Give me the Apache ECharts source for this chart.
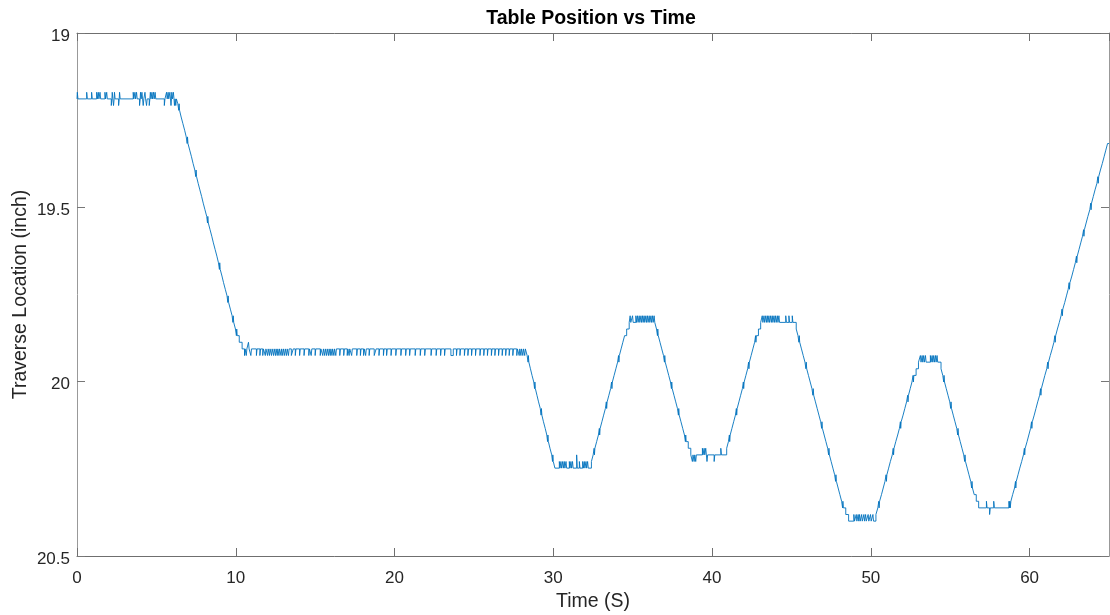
<!DOCTYPE html>
<html>
<head>
<meta charset="utf-8">
<script src="https://cdn.jsdelivr.net/npm/echarts@6/dist/echarts.min.js"></script>
<style>
  html, body { margin: 0; padding: 0; background: #fff; }
  #chart { width: 1110px; height: 615px; }
</style>
</head>
<body>
<div id="chart"></div>
<script>
// time (s), traverse location (inch) — sampled position, drawn as a held step line
const hold1 = [
  [0, 19.189],
  [0.02, 19.170], [0.06, 19.189], [0.61, 19.170], [0.65, 19.189], [0.92, 19.170], [0.96, 19.189],
  [1.24, 19.170], [1.28, 19.189], [1.34, 19.170], [1.38, 19.189], [1.45, 19.170], [1.49, 19.189],
  [1.76, 19.170], [1.80, 19.189], [1.87, 19.170], [1.91, 19.189], [2.16, 19.208], [2.20, 19.189],
  [2.22, 19.170], [2.26, 19.189], [2.30, 19.208], [2.34, 19.189], [2.36, 19.170], [2.40, 19.189],
  [2.62, 19.208], [2.66, 19.189], [2.68, 19.170], [2.72, 19.189], [3.54, 19.170], [3.58, 19.189],
  [3.65, 19.170], [3.69, 19.189], [3.75, 19.170], [3.79, 19.189], [3.94, 19.208], [3.98, 19.189],
  [4.00, 19.170], [4.04, 19.189], [4.09, 19.170], [4.13, 19.189], [4.17, 19.208], [4.21, 19.189],
  [4.28, 19.170], [4.32, 19.189], [4.38, 19.208], [4.42, 19.189], [4.55, 19.208], [4.59, 19.189],
  [4.62, 19.170], [4.66, 19.189], [4.72, 19.170], [4.76, 19.189], [4.82, 19.170], [4.86, 19.189],
  [4.92, 19.170], [4.96, 19.189], [5.50, 19.208], [5.54, 19.189], [5.64, 19.170], [5.68, 19.189],
  [5.74, 19.170], [5.78, 19.189], [5.85, 19.170], [5.89, 19.189], [5.92, 19.208], [5.95, 19.189],
  [5.97, 19.170], [6.01, 19.189], [6.07, 19.170], [6.11, 19.189], [6.14, 19.208], [6.18, 19.189],
  [6.22, 19.208], [6.26, 19.189]
];
const fall1 = [
  [6.35, 19.203], [6.41, 19.222], [6.43, 19.203], [6.46, 19.222],
  [6.56, 19.241], [6.67, 19.260], [6.78, 19.279], [6.88, 19.298],
  [6.94, 19.317], [6.96, 19.298], [6.99, 19.317],
  [7.10, 19.336], [7.21, 19.355], [7.31, 19.374], [7.42, 19.393],
  [7.48, 19.412], [7.50, 19.393], [7.53, 19.412],
  [7.63, 19.431], [7.74, 19.450], [7.85, 19.469], [7.95, 19.488], [8.06, 19.507], [8.17, 19.526],
  [8.22, 19.545], [8.24, 19.526], [8.27, 19.545],
  [8.38, 19.564], [8.49, 19.583], [8.59, 19.602], [8.70, 19.621], [8.81, 19.640], [8.91, 19.659],
  [8.97, 19.678], [8.99, 19.659], [9.02, 19.678],
  [9.13, 19.697], [9.23, 19.716], [9.34, 19.735], [9.45, 19.754],
  [9.50, 19.773], [9.52, 19.754], [9.55, 19.773],
  [9.66, 19.792], [9.77, 19.811],
  [9.82, 19.830], [9.84, 19.811], [9.87, 19.830],
  [9.98, 19.849],
  [10.04, 19.868], [10.06, 19.849], [10.09, 19.868],
  [10.22, 19.887], [10.40, 19.906]
];
const hold2 = [
  [10.55, 19.925], [10.59, 19.906], [10.66, 19.925], [10.70, 19.906], [10.80, 19.887], [10.84, 19.906],
  [10.95, 19.925], [10.99, 19.906], [11.30, 19.925], [11.34, 19.906], [11.52, 19.925], [11.56, 19.906],
  [11.70, 19.925], [11.74, 19.906], [11.86, 19.925], [11.90, 19.906], [12.00, 19.925], [12.04, 19.906],
  [12.12, 19.925], [12.16, 19.906], [12.25, 19.925], [12.29, 19.906], [12.38, 19.925], [12.42, 19.906],
  [12.50, 19.925], [12.54, 19.906], [12.61, 19.925], [12.65, 19.906], [12.72, 19.925], [12.76, 19.906],
  [12.85, 19.925], [12.89, 19.906], [12.96, 19.925], [13.00, 19.906], [13.08, 19.925], [13.12, 19.906],
  [13.20, 19.925], [13.24, 19.906], [13.32, 19.925], [13.36, 19.906], [13.50, 19.925], [13.62, 19.906],
  [13.75, 19.925], [13.79, 19.906], [14.02, 19.925], [14.06, 19.906], [14.30, 19.925], [14.34, 19.906],
  [14.60, 19.925], [14.64, 19.906], [14.75, 19.925], [14.79, 19.906], [15.00, 19.925], [15.04, 19.906],
  [15.32, 19.925], [15.36, 19.906], [15.48, 19.925], [15.52, 19.906], [15.60, 19.925], [15.64, 19.906],
  [15.72, 19.925], [15.76, 19.906], [15.84, 19.925], [15.88, 19.906], [15.95, 19.925], [15.99, 19.906],
  [16.06, 19.925], [16.10, 19.906], [16.18, 19.925], [16.22, 19.906], [16.30, 19.925], [16.34, 19.906],
  [16.55, 19.925], [16.59, 19.906], [16.80, 19.925], [16.84, 19.906], [17.02, 19.925], [17.06, 19.906],
  [17.14, 19.925], [17.18, 19.906], [17.30, 19.925], [17.34, 19.906], [17.62, 19.925], [17.66, 19.906],
  [17.85, 19.925], [17.89, 19.906], [18.05, 19.925], [18.09, 19.906], [18.18, 19.925], [18.22, 19.906],
  [18.40, 19.925], [18.44, 19.906], [18.72, 19.925], [18.84, 19.906], [19.02, 19.925], [19.06, 19.906],
  [19.30, 19.925], [19.34, 19.906], [19.50, 19.925], [19.54, 19.906], [19.78, 19.925], [19.82, 19.906],
  [20.08, 19.925], [20.12, 19.906], [20.40, 19.925], [20.44, 19.906], [20.70, 19.925], [20.74, 19.906],
  [20.95, 19.925], [20.99, 19.906], [21.30, 19.925], [21.34, 19.906], [21.62, 19.925], [21.66, 19.906],
  [21.90, 19.925], [21.94, 19.906], [22.30, 19.925], [22.34, 19.906], [22.62, 19.925], [22.66, 19.906],
  [22.90, 19.925], [22.94, 19.906], [23.15, 19.925], [23.19, 19.906], [23.55, 19.925], [23.70, 19.906],
  [23.90, 19.925], [23.94, 19.906], [24.12, 19.925], [24.16, 19.906], [24.40, 19.925], [24.44, 19.906],
  [24.62, 19.925], [24.66, 19.906], [24.85, 19.925], [24.89, 19.906], [25.10, 19.925], [25.14, 19.906],
  [25.38, 19.925], [25.42, 19.906], [25.62, 19.925], [25.66, 19.906], [25.85, 19.925], [25.89, 19.906],
  [26.10, 19.925], [26.14, 19.906], [26.32, 19.925], [26.36, 19.906], [26.55, 19.925], [26.59, 19.906],
  [26.78, 19.925], [26.82, 19.906], [27.00, 19.925], [27.04, 19.906], [27.22, 19.925], [27.26, 19.906],
  [27.45, 19.925], [27.49, 19.906], [27.70, 19.925], [27.74, 19.906], [27.85, 19.925], [27.89, 19.906],
  [27.96, 19.925], [28.00, 19.906], [28.08, 19.925], [28.12, 19.906], [28.20, 19.925], [28.24, 19.906]
];
const fall2 = [
  [28.35, 19.925], [28.41, 19.944], [28.43, 19.925], [28.46, 19.944],
  [28.56, 19.963], [28.66, 19.982], [28.77, 20.001],
  [28.82, 20.020], [28.84, 20.001], [28.87, 20.020],
  [28.97, 20.039], [29.07, 20.058], [29.18, 20.077],
  [29.23, 20.096], [29.25, 20.077], [29.28, 20.096],
  [29.38, 20.115], [29.49, 20.134], [29.59, 20.153],
  [29.64, 20.172], [29.66, 20.153], [29.69, 20.172],
  [29.79, 20.191], [29.90, 20.210],
  [29.95, 20.229], [29.97, 20.210], [30.00, 20.229],
  [30.10, 20.248]
];
const valley1 = [
  [30.38, 20.229], [30.42, 20.248], [30.48, 20.229], [30.52, 20.248], [30.59, 20.229], [30.63, 20.248],
  [30.69, 20.229], [30.73, 20.248], [30.80, 20.229], [30.84, 20.248], [31.01, 20.229], [31.05, 20.248],
  [31.11, 20.229], [31.15, 20.248], [31.21, 20.229], [31.25, 20.248], [31.47, 20.210], [31.51, 20.248],
  [31.64, 20.229], [31.68, 20.248], [31.85, 20.229], [31.89, 20.248], [31.95, 20.229], [31.99, 20.248],
  [32.06, 20.229], [32.10, 20.248], [32.16, 20.229], [32.20, 20.248]
];
const rise1 = [
  [32.40, 20.229], [32.51, 20.210],
  [32.57, 20.191], [32.59, 20.210], [32.62, 20.191],
  [32.73, 20.172], [32.84, 20.153],
  [32.90, 20.134], [32.92, 20.153], [32.95, 20.134],
  [33.06, 20.115], [33.17, 20.096], [33.28, 20.077],
  [33.34, 20.058], [33.36, 20.077], [33.39, 20.058],
  [33.50, 20.039], [33.61, 20.020],
  [33.67, 20.001], [33.69, 20.020], [33.72, 20.001],
  [33.83, 19.982], [33.94, 19.963], [34.05, 19.944],
  [34.11, 19.925], [34.13, 19.944], [34.16, 19.925],
  [34.27, 19.906], [34.38, 19.887], [34.49, 19.868], [34.62, 19.849], [34.78, 19.830]
];
const peak1 = [
  [34.84, 19.811], [34.88, 19.830], [34.99, 19.811], [35.03, 19.830], [35.20, 19.811], [35.24, 19.830],
  [35.30, 19.811], [35.34, 19.830], [35.41, 19.811], [35.45, 19.830], [35.52, 19.811], [35.56, 19.830],
  [35.62, 19.811], [35.66, 19.830], [35.72, 19.811], [35.76, 19.830], [35.83, 19.811], [35.87, 19.830],
  [35.93, 19.811], [35.97, 19.830], [36.04, 19.811], [36.08, 19.830], [36.15, 19.811], [36.19, 19.830],
  [36.25, 19.811], [36.29, 19.830], [36.35, 19.811], [36.39, 19.830]
];
const fall3 = [
  [36.50, 19.849],
  [36.56, 19.868], [36.58, 19.849], [36.61, 19.868],
  [36.72, 19.887], [36.83, 19.906], [36.94, 19.925],
  [37.00, 19.944], [37.02, 19.925], [37.05, 19.944],
  [37.16, 19.963], [37.27, 19.982], [37.38, 20.001],
  [37.44, 20.020], [37.46, 20.001], [37.49, 20.020],
  [37.60, 20.039], [37.71, 20.058], [37.82, 20.077],
  [37.88, 20.096], [37.90, 20.077], [37.93, 20.096],
  [38.04, 20.115], [38.15, 20.134], [38.26, 20.153],
  [38.32, 20.172], [38.34, 20.153], [38.37, 20.172],
  [38.50, 20.191], [38.66, 20.210]
];
const valley2 = [
  [38.76, 20.229], [38.80, 20.210], [38.87, 20.229], [38.91, 20.210], [38.97, 20.229], [39.01, 20.210],
  [39.39, 20.191], [39.43, 20.210], [39.50, 20.191], [39.54, 20.210], [39.60, 20.191], [39.64, 20.210],
  [39.68, 20.229], [39.72, 20.210], [40.13, 20.229], [40.17, 20.210], [40.55, 20.191], [40.59, 20.210]
];
const rise2 = [
  [40.92, 20.191], [41.03, 20.172],
  [41.09, 20.153], [41.11, 20.172], [41.14, 20.153],
  [41.25, 20.134], [41.36, 20.115], [41.47, 20.096],
  [41.53, 20.077], [41.55, 20.096], [41.58, 20.077],
  [41.69, 20.058], [41.80, 20.039], [41.91, 20.020],
  [41.97, 20.001], [41.99, 20.020], [42.02, 20.001],
  [42.13, 19.982], [42.24, 19.963],
  [42.30, 19.944], [42.32, 19.963], [42.35, 19.944],
  [42.46, 19.925], [42.57, 19.906], [42.68, 19.887],
  [42.74, 19.868], [42.76, 19.887], [42.79, 19.868],
  [42.92, 19.849], [43.06, 19.830]
];
const peak2 = [
  [43.16, 19.811], [43.20, 19.830], [43.27, 19.811], [43.31, 19.830], [43.38, 19.811], [43.42, 19.830],
  [43.48, 19.811], [43.52, 19.830], [43.58, 19.811], [43.62, 19.830], [43.69, 19.811], [43.73, 19.830],
  [43.79, 19.811], [43.83, 19.830], [43.90, 19.811], [43.94, 19.830], [44.00, 19.811], [44.04, 19.830],
  [44.11, 19.811], [44.15, 19.830], [44.21, 19.811], [44.25, 19.830], [44.64, 19.811], [44.68, 19.830],
  [44.84, 19.811], [44.88, 19.830], [45.05, 19.811], [45.09, 19.830]
];
const fall4 = [
  [45.30, 19.849], [45.41, 19.868],
  [45.47, 19.887], [45.49, 19.868], [45.52, 19.887],
  [45.63, 19.906], [45.74, 19.925], [45.85, 19.944],
  [45.91, 19.963], [45.93, 19.944], [45.96, 19.963],
  [46.07, 19.982], [46.18, 20.001], [46.29, 20.020],
  [46.35, 20.039], [46.37, 20.020], [46.40, 20.039],
  [46.51, 20.058], [46.62, 20.077], [46.73, 20.096], [46.84, 20.115],
  [46.90, 20.134], [46.92, 20.115], [46.95, 20.134],
  [47.06, 20.153], [47.17, 20.172], [47.28, 20.191],
  [47.34, 20.210], [47.36, 20.191], [47.39, 20.210],
  [47.50, 20.229], [47.61, 20.248], [47.72, 20.267],
  [47.78, 20.286], [47.80, 20.267], [47.83, 20.286],
  [47.94, 20.305], [48.05, 20.324], [48.16, 20.343],
  [48.22, 20.362], [48.24, 20.343], [48.27, 20.362],
  [48.42, 20.381], [48.60, 20.400]
];
const valley3 = [
  [48.93, 20.381], [48.97, 20.400], [49.08, 20.381], [49.12, 20.400], [49.20, 20.381], [49.24, 20.400],
  [49.29, 20.381], [49.33, 20.400], [49.42, 20.381], [49.46, 20.400], [49.56, 20.381], [49.60, 20.400],
  [49.67, 20.381], [49.71, 20.400], [49.83, 20.381], [49.87, 20.400], [49.98, 20.381], [50.02, 20.400],
  [50.13, 20.381], [50.17, 20.400]
];
const rise3 = [
  [50.32, 20.381], [50.44, 20.362],
  [50.50, 20.343], [50.52, 20.362], [50.55, 20.343],
  [50.67, 20.324], [50.78, 20.305], [50.89, 20.286],
  [50.96, 20.267], [50.98, 20.286], [51.01, 20.267],
  [51.12, 20.248], [51.23, 20.229], [51.35, 20.210],
  [51.41, 20.191], [51.43, 20.210], [51.46, 20.191],
  [51.57, 20.172], [51.69, 20.153], [51.80, 20.134],
  [51.86, 20.115], [51.88, 20.134], [51.91, 20.115],
  [52.03, 20.096], [52.14, 20.077], [52.25, 20.058],
  [52.32, 20.039], [52.34, 20.058], [52.37, 20.039],
  [52.48, 20.020], [52.59, 20.001],
  [52.66, 19.982], [52.68, 20.001], [52.71, 19.982],
  [52.85, 19.963], [53.00, 19.944]
];
const peak3 = [
  [53.12, 19.925], [53.16, 19.944], [53.23, 19.925], [53.27, 19.944], [53.33, 19.925], [53.37, 19.944],
  [53.44, 19.925], [53.48, 19.944], [53.75, 19.925], [53.79, 19.944], [53.86, 19.925], [53.90, 19.944],
  [53.96, 19.925], [54.00, 19.944], [54.07, 19.925], [54.11, 19.944], [54.17, 19.925], [54.21, 19.944]
];
const fall5 = [
  [54.42, 19.963], [54.53, 19.982],
  [54.59, 20.001], [54.61, 19.982], [54.64, 20.001],
  [54.75, 20.020], [54.86, 20.039], [54.97, 20.058],
  [55.03, 20.077], [55.05, 20.058], [55.08, 20.077],
  [55.19, 20.096], [55.30, 20.115], [55.41, 20.134],
  [55.47, 20.153], [55.49, 20.134], [55.52, 20.153],
  [55.63, 20.172], [55.74, 20.191], [55.85, 20.210],
  [55.91, 20.229], [55.93, 20.210], [55.96, 20.229],
  [56.07, 20.248], [56.18, 20.267], [56.29, 20.286],
  [56.35, 20.305], [56.37, 20.286], [56.40, 20.305],
  [56.51, 20.324], [56.64, 20.343], [56.79, 20.362]
];
const valley4 = [
  [57.28, 20.343], [57.32, 20.362], [57.48, 20.381], [57.52, 20.362], [57.74, 20.343], [57.78, 20.362],
  [58.70, 20.343], [58.72, 20.362], [58.76, 20.343], [58.78, 20.362]
];
const rise4 = [
  [58.82, 20.343], [58.93, 20.324], [59.05, 20.305],
  [59.11, 20.286], [59.13, 20.305], [59.16, 20.286],
  [59.27, 20.267], [59.38, 20.248], [59.50, 20.229], [59.61, 20.210],
  [59.67, 20.191], [59.69, 20.210], [59.72, 20.191],
  [59.84, 20.172], [59.95, 20.153], [60.06, 20.134],
  [60.12, 20.115], [60.14, 20.134], [60.17, 20.115],
  [60.29, 20.096], [60.40, 20.077], [60.51, 20.058], [60.63, 20.039],
  [60.69, 20.020], [60.71, 20.039], [60.74, 20.020],
  [60.85, 20.001], [60.96, 19.982], [61.08, 19.963],
  [61.14, 19.944], [61.16, 19.963], [61.19, 19.944],
  [61.30, 19.925], [61.42, 19.906], [61.53, 19.887],
  [61.59, 19.868], [61.61, 19.887], [61.64, 19.868],
  [61.75, 19.849], [61.87, 19.830], [61.98, 19.811],
  [62.04, 19.792], [62.06, 19.811], [62.09, 19.792],
  [62.21, 19.773], [62.32, 19.754], [62.43, 19.735],
  [62.49, 19.716], [62.51, 19.735], [62.54, 19.716],
  [62.66, 19.697], [62.77, 19.678], [62.88, 19.659],
  [62.95, 19.640], [62.97, 19.659], [63.00, 19.640],
  [63.11, 19.621], [63.22, 19.602], [63.33, 19.583],
  [63.40, 19.564], [63.42, 19.583], [63.45, 19.564],
  [63.56, 19.545], [63.67, 19.526], [63.79, 19.507],
  [63.85, 19.488], [63.87, 19.507], [63.90, 19.488],
  [64.01, 19.469], [64.12, 19.450], [64.24, 19.431],
  [64.30, 19.412], [64.32, 19.431], [64.35, 19.412],
  [64.46, 19.393], [64.58, 19.374], [64.69, 19.355], [64.80, 19.336], [64.91, 19.317], [65.00, 19.317]
];

const xTicks = [0, 10, 20, 30, 40, 50, 60];
const xMax = 65;
const yTicks = [19, 19.5, 20, 20.5];

const position = [].concat(
  hold1, fall1, hold2, fall2, valley1, rise1, peak1, fall3, valley2,
  rise2, peak2, fall4, valley3, rise3, peak3, fall5, valley4, rise4
);

const font = "'Liberation Sans', Arial, Helvetica, sans-serif";
const ink = '#262626';

const chart = echarts.init(document.getElementById('chart'), null, { renderer: 'canvas' });

const boxX = (pos, withLabels) => ({
  type: 'value',
  position: pos,
  min: xTicks[0],
  max: xMax,
  interval: xTicks[1] - xTicks[0],
  axisLine: { show: true, onZero: false, lineStyle: { color: '#6f6f6f', width: 1 } },
  axisTick: { show: true, inside: true, length: 8, lineStyle: { color: '#6f6f6f' } },
  axisLabel: {
    show: withLabels, margin: 14, fontSize: 17, color: ink, fontFamily: font,
    showMaxLabel: false
  },
  splitLine: { show: false }
});

const boxY = (pos, withLabels) => ({
  type: 'value',
  position: pos,
  inverse: true,
  min: yTicks[0],
  max: yTicks[yTicks.length - 1],
  interval: yTicks[1] - yTicks[0],
  axisLine: { show: true, onZero: false, lineStyle: { color: '#999', width: 1 } },
  axisTick: { show: true, inside: true, length: 8, lineStyle: { color: '#777' } },
  axisLabel: {
    show: withLabels, margin: 7, fontSize: 17, color: ink, fontFamily: font,
    verticalAlign: 'top', lineHeight: 6
  },
  splitLine: { show: false }
});

chart.setOption({
  animation: false,
  backgroundColor: '#fff',
  title: {
    text: 'Table Position vs Time',
    left: 586,
    top: 4,
    textAlign: 'center',
    textStyle: { fontSize: 19.5, fontWeight: 'bold', color: '#000', fontFamily: font }
  },
  grid: { left: 77, right: 1, top: 33, bottom: 59, containLabel: false, outerBoundsMode: 'none' },
  xAxis: [
    Object.assign(boxX('bottom', true), {
      name: 'Time (S)',
      nameLocation: 'middle',
      nameGap: 36,
      nameMoveOverlap: false,
      nameTextStyle: { fontSize: 19.5, color: ink, fontFamily: font }
    }),
    boxX('top', false)
  ],
  yAxis: [
    Object.assign(boxY('left', true), {
      name: 'Traverse Location (inch)',
      nameLocation: 'middle',
      nameGap: 46,
      nameMoveOverlap: false,
      nameTextStyle: { fontSize: 19.5, color: ink, fontFamily: font }
    }),
    boxY('right', false)
  ],
  series: [{
    type: 'line',
    step: 'end',
    data: position,
    showSymbol: false,
    symbol: 'none',
    sampling: false,
    lineStyle: { color: '#0072BD', width: 0.9 }
  }]
});
</script>
</body>
</html>
